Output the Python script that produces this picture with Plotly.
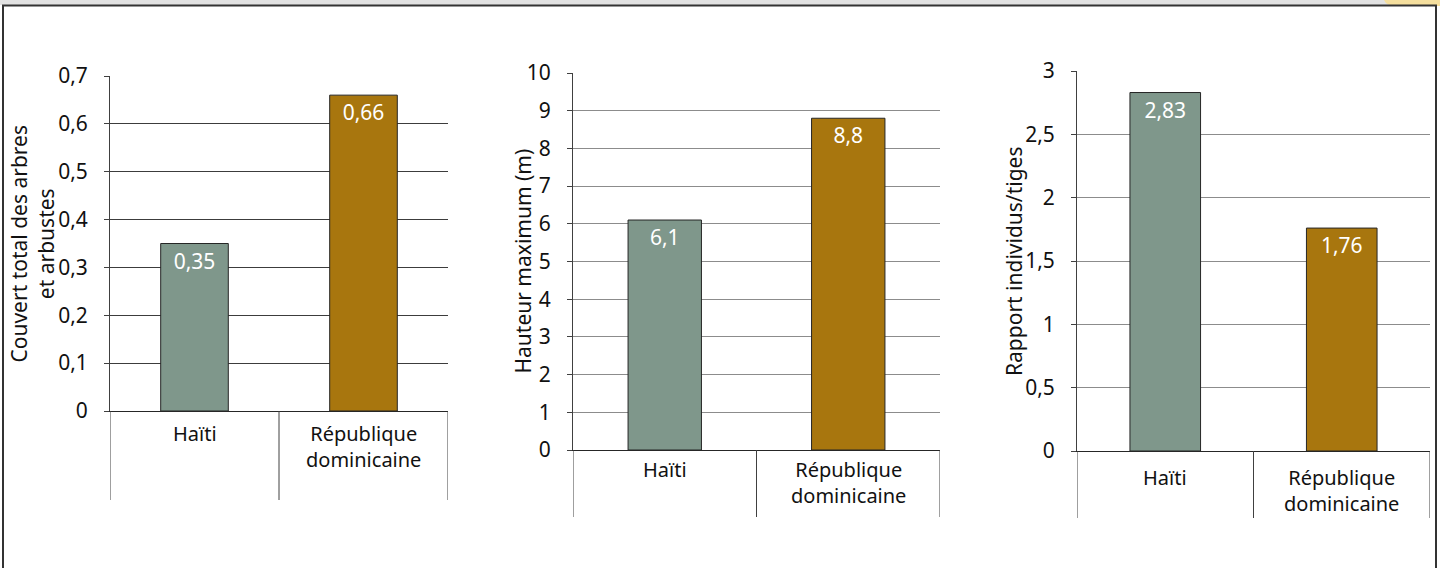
import plotly.graph_objects as go

# ---------------- data ----------------
categories = ["Haïti", "République dominicaine"]
category_labels = ["Haïti", "République<br>dominicaine"]
couvert = [0.35, 0.66]
hauteur = [6.1, 8.8]
rapport = [2.83, 1.76]
y_titles = ["Couvert total des arbres<br>et arbustes", "Hauteur maximum (m)", "Rapport individus/tiges"]
y_max = [0.7, 10, 3]
y_step = [0.1, 1, 0.5]

# ---------------- style / layout ----------------
W, H = 1440, 568
FONT = "Noto Sans"
bar_colors = ["#7f978b", "#a8760e"]
# pixel geometry per panel: x0, x1, ytop, ybottom, title x centre, label top, divider bottom
panels = [
    dict(x0=110, x1=448, yt=76, yb=411, tx=32, ltop=418, divb=500, grid="#3c3c3c"),
    dict(x0=573, x1=940, yt=73, yb=450, tx=522, ltop=454, divb=517, grid="#8c8c8c"),
    dict(x0=1077, x1=1430, yt=71, yb=451, tx=1014, ltop=462, divb=518, grid="#8c8c8c"),
]
series = [couvert, hauteur, rapport]


def px(x):
    return x / W


def py(y):
    return 1 - y / H


fig = go.Figure()
shapes = []
annotations = []

for i, (p, vals) in enumerate(zip(panels, series)):
    sfx = "" if i == 0 else str(i + 1)
    xa, ya = "x" + sfx, "y" + sfx
    labels = [str(v).replace(".", ",") for v in vals]
    fig.add_trace(go.Bar(
        x=categories, y=vals, xaxis=xa, yaxis=ya, width=0.4,
        marker=dict(color=bar_colors, line=dict(color="#262626", width=1)),
        text=labels, textposition="inside", insidetextanchor="end", textangle=0,
        constraintext="none", cliponaxis=False,
        textfont=dict(color="white", size=21, family=FONT),
        hoverinfo="skip", showlegend=False,
    ))
    fig.layout["xaxis" + sfx] = dict(
        domain=[px(p["x0"]), px(p["x1"])], anchor=ya, type="category",
        range=[-0.5, 1.5], showticklabels=False, ticks="", showgrid=False,
        zeroline=False, showline=True, linecolor="#262626", linewidth=1,
        fixedrange=True, automargin=False,
    )
    fig.layout["yaxis" + sfx] = dict(
        domain=[py(p["yb"]), py(p["yt"])], anchor=xa, range=[0, y_max[i]],
        dtick=y_step[i], tick0=0, showgrid=True, gridcolor=p["grid"], gridwidth=1,
        zeroline=False, showline=True, linecolor="#404040", linewidth=1,
        ticks="outside", ticklen=5, tickcolor="#404040",
        tickfont=dict(size=21, family=FONT, color="#111111"),
        ticklabelstandoff=12, fixedrange=True, automargin=False,
    )
    # category dividers below the axis
    for xv in [-0.5, 0.5, 1.5]:
        shapes.append(dict(type="line", xref=xa, yref="paper", x0=xv, x1=xv,
                           y0=py(p["yb"]), y1=py(p["divb"]),
                           line=dict(color="#404040", width=1)))
    # category labels
    for cat, lab in zip(categories, category_labels):
        annotations.append(dict(
            x=cat, xref=xa, y=py(p["ltop"]), yref="paper",
            text=lab, showarrow=False, yanchor="top",
            font=dict(size=20, family=FONT, color="#111111"),
        ))
    # y axis title
    annotations.append(dict(
        x=px(p["tx"]), y=py((p["yt"] + p["yb"]) / 2), xref="paper", yref="paper",
        text=y_titles[i], textangle=-90, showarrow=False,
        xanchor="center", yanchor="middle",
        font=dict(size=21, family=FONT, color="#111111"),
    ))

# page decoration: top strip, yellow tab, frame
shapes.insert(0, dict(type="rect", xref="paper", yref="paper", x0=0, x1=1, y0=py(5), y1=1,
                      fillcolor="#e2e2e2", line=dict(width=0), layer="below"))
tab_path = "M {a},{t} Q {b},{m} {c},{m} L {d},{m} L {d},{t} Z".format(
    a=px(1384), b=px(1386), c=px(1397), d=px(1440), t=py(0), m=py(6))
shapes.insert(1, dict(type="path", xref="paper", yref="paper", path=tab_path,
                      fillcolor="#f5df9e", line=dict(width=0), layer="below"))
shapes.append(dict(type="rect", xref="paper", yref="paper", x0=px(3), x1=px(1436),
                   y0=py(575), y1=py(5.5), line=dict(color="#333333", width=2),
                   fillcolor="rgba(0,0,0,0)"))

fig.update_layout(
    template="none",
    width=W, height=H, margin=dict(l=0, r=0, t=0, b=0, pad=0, autoexpand=False),
    paper_bgcolor="white", plot_bgcolor="white",
    separators=", ", bargap=0.6, showlegend=False,
    shapes=shapes, annotations=annotations,
    font=dict(family=FONT, color="#111111"),
)

fig.write_html("out.html", config={"displayModeBar": False})
